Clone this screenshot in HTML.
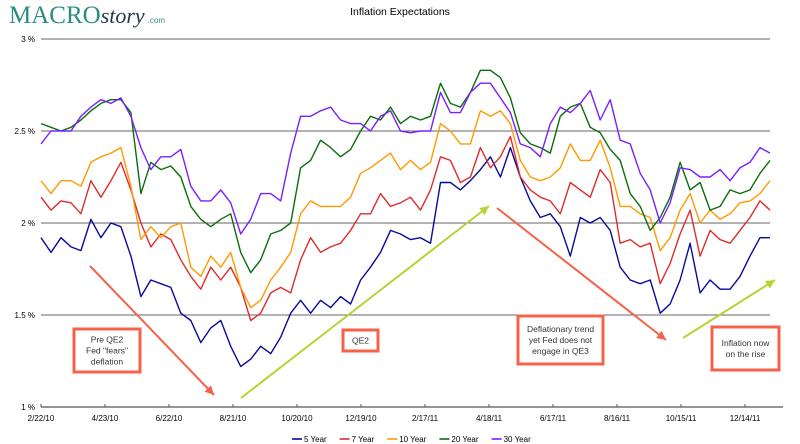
<!DOCTYPE html>
<html><head><meta charset="utf-8"><style>
body{margin:0;background:#fff;}
svg{display:block;font-family:"Liberation Sans",sans-serif;}
</style></head><body>
<svg id="chart" width="800" height="444" viewBox="0 0 800 444">
<g>
<text x="9" y="23" font-family="Liberation Serif,serif" font-size="25" fill="#2b8c83">MACRO<tspan font-style="italic" font-size="22" fill="#1f3b47">story</tspan><tspan font-family="Liberation Sans,sans-serif" font-size="8" fill="#2b8c83" dx="3">.com</tspan></text>
</g>
<text x="400" y="15" text-anchor="middle" font-size="10.5" fill="#000">Inflation Expectations</text>
<g id="grid"></g>
<g id="series"></g>
<g id="annot"></g>
<g id="legend"></g>
</svg>
<script>
const yTicks=[1,1.5,2,2.5,3];
const yTickLabels=["1 %","1.5 %","2 %","2.5 %","3 %"];
const xLabels=["2/22/10","4/23/10","6/22/10","8/21/10","10/20/10","12/19/10","2/17/11","4/18/11","6/17/11","8/16/11","10/15/11","12/14/11"];
const seriesNames=["5 Year","7 Year","10 Year","20 Year","30 Year"];
const y5=[1.92,1.84,1.92,1.87,1.85,2.02,1.92,2.0,1.98,1.82,1.60,1.69,1.67,1.65,1.51,1.47,1.35,1.43,1.47,1.33,1.22,1.26,1.33,1.29,1.38,1.51,1.58,1.51,1.58,1.54,1.60,1.56,1.69,1.76,1.84,1.96,1.94,1.91,1.92,1.89,2.22,2.22,2.18,2.23,2.29,2.36,2.25,2.41,2.25,2.12,2.03,2.05,1.98,1.82,2.03,2.0,2.03,1.96,1.76,1.69,1.67,1.69,1.51,1.56,1.69,1.89,1.62,1.69,1.64,1.64,1.71,1.82,1.92,1.92];
const y7=[2.14,2.07,2.12,2.11,2.05,2.23,2.14,2.23,2.33,2.18,2.0,1.87,1.94,1.91,1.80,1.71,1.64,1.76,1.69,1.76,1.65,1.47,1.51,1.62,1.65,1.62,1.80,1.92,1.84,1.87,1.89,1.96,2.05,2.05,2.16,2.09,2.11,2.14,2.07,2.18,2.36,2.34,2.22,2.25,2.41,2.30,2.36,2.47,2.25,2.18,2.14,2.12,2.05,2.22,2.18,2.14,2.29,2.22,1.89,1.91,1.87,1.89,1.67,1.78,1.94,2.07,1.82,1.96,1.91,1.89,1.96,2.03,2.12,2.07];
const y10=[2.23,2.16,2.23,2.23,2.20,2.33,2.36,2.38,2.41,2.20,1.91,1.98,1.92,1.98,2.0,1.76,1.71,1.82,1.76,1.84,1.65,1.54,1.58,1.69,1.76,1.84,2.05,2.12,2.09,2.09,2.09,2.14,2.27,2.30,2.34,2.38,2.29,2.34,2.29,2.33,2.54,2.5,2.43,2.43,2.61,2.58,2.61,2.54,2.34,2.25,2.23,2.25,2.30,2.43,2.34,2.34,2.45,2.30,2.09,2.09,2.05,2.03,1.85,1.92,2.07,2.16,2.0,2.07,2.02,2.05,2.11,2.12,2.16,2.23];
const y20=[2.54,2.52,2.5,2.52,2.56,2.61,2.65,2.67,2.67,2.60,2.16,2.33,2.29,2.31,2.25,2.09,2.02,1.98,2.02,2.05,1.84,1.73,1.80,1.94,1.96,2.0,2.30,2.34,2.45,2.41,2.36,2.40,2.5,2.58,2.56,2.63,2.54,2.58,2.56,2.58,2.76,2.65,2.63,2.71,2.83,2.83,2.79,2.68,2.49,2.43,2.41,2.38,2.58,2.63,2.65,2.52,2.49,2.40,2.34,2.16,2.09,1.96,2.03,2.14,2.33,2.18,2.22,2.07,2.09,2.18,2.16,2.18,2.27,2.34];
const y30=[2.43,2.5,2.5,2.5,2.58,2.63,2.67,2.65,2.68,2.58,2.41,2.29,2.36,2.36,2.40,2.20,2.12,2.12,2.18,2.11,1.94,2.02,2.16,2.16,2.12,2.38,2.58,2.58,2.61,2.63,2.56,2.54,2.54,2.5,2.58,2.61,2.5,2.49,2.5,2.5,2.71,2.60,2.60,2.71,2.76,2.76,2.68,2.60,2.43,2.41,2.36,2.54,2.63,2.60,2.65,2.72,2.56,2.67,2.45,2.43,2.27,2.18,2.0,2.11,2.30,2.29,2.25,2.25,2.29,2.23,2.30,2.33,2.41,2.38];
const colors=["#0a0a9a","#e02b2b","#ff9a00","#0a6e0a","#7a1fff"];
const NS="http://www.w3.org/2000/svg";
const yScale=v=>407-(v-1)*184;
const xIdx=i=>41+i*(729/73);
const xLab=i=>41+i*64;
function mk(tag,attrs,parent){const e=document.createElementNS(NS,tag);for(const k in attrs)e.setAttribute(k,attrs[k]);parent.appendChild(e);return e;}
const grid=document.getElementById('grid');
yTicks.forEach((t,i)=>{
  const y=yScale(t);
  const ln=mk('line',{x1:41,x2:i===0?783:770,y1:y,y2:y,stroke:i===0?'#555':'#666','stroke-width':i===0?1.2:1},grid);
  
  
  const tx=mk('text',{x:35,y:y+3,'text-anchor':'end','font-size':8,fill:'#000'},grid);
  tx.textContent=yTickLabels[i];
  
  
});
xLabels.forEach((l,i)=>{
  const x=xLab(i);
  const tk=mk('line',{x1:x,x2:x,y1:404,y2:407,stroke:'#555'},grid);
  
  
  const tx=mk('text',{x:x,y:421,'text-anchor':'middle','font-size':8,fill:'#000'},grid);
  tx.textContent=l;
  
  
});
const ser=document.getElementById('series');
[y5,y7,y10,y20,y30].forEach((arr,s)=>{
  const d=arr.map((v,i)=>(i?'L':'M')+xIdx(i).toFixed(1)+','+yScale(v).toFixed(1)).join('');
  const p=mk('path',{d:d,fill:'none',stroke:colors[s],'stroke-width':1.4,'stroke-linejoin':'round'},ser);
  
  
});
const an=document.getElementById('annot');
function arrow(x1,y1,x2,y2,c,name){
  const g=mk('g',{},an);
  
  
  mk('line',{x1:x1,y1:y1,x2:x2,y2:y2,stroke:c,'stroke-width':2},g);
  const a=Math.atan2(y2-y1,x2-x1),L=9,W=4.5;
  const bx=x2-L*Math.cos(a),by=y2-L*Math.sin(a);
  mk('polygon',{points:`${x2},${y2} ${bx-W*Math.sin(a)},${by+W*Math.cos(a)} ${bx+W*Math.sin(a)},${by-W*Math.cos(a)}`,fill:c},g);
}
arrow(90,266,214,395,'#f4624a','arrow-pre-qe2');
arrow(241,398,489,206,'#b7d334','arrow-qe2');
arrow(497,208,666,340,'#f4624a','arrow-deflation');
arrow(683,338,775,280,'#b7d334','arrow-inflation-rise');
function box(x,y,w,h,lines,name){
  const g=mk('g',{},an);
  
  
  mk('rect',{x:x,y:y,width:w,height:h,fill:'#fff',stroke:'#f4624a','stroke-width':3},g);
  const n=lines.length,top=y+h/2-(n-1)*5.5+3;
  lines.forEach((l,i)=>{const t=mk('text',{x:x+w/2,y:top+i*11,'text-anchor':'middle','font-size':8.5,fill:'#333'},g);t.textContent=l;});
}
box(74,329,66,43,['Pre QE2','Fed "fears"','deflation'],'annotation-pre-qe2');
box(343,330,35,21,['QE2'],'annotation-qe2');
box(518,316,85,48,['Deflationary trend','yet Fed does not','engage in QE3'],'annotation-deflationary-trend');
box(712,327,67,43,['Inflation now','on the rise'],'annotation-inflation-rise');
const lg=document.getElementById('legend');
let lx=292;
seriesNames.forEach((n,i)=>{
  const g=mk('g',{},lg);
  
  
  mk('line',{x1:lx,x2:lx+10,y1:439,y2:439,stroke:colors[i],'stroke-width':1.6},g);
  const t=mk('text',{x:lx+12,y:442,'font-size':8,fill:'#000'},g);
  t.textContent=n;
  lx+=12+n.length*4.6+8;
});
</script>
</body></html>
